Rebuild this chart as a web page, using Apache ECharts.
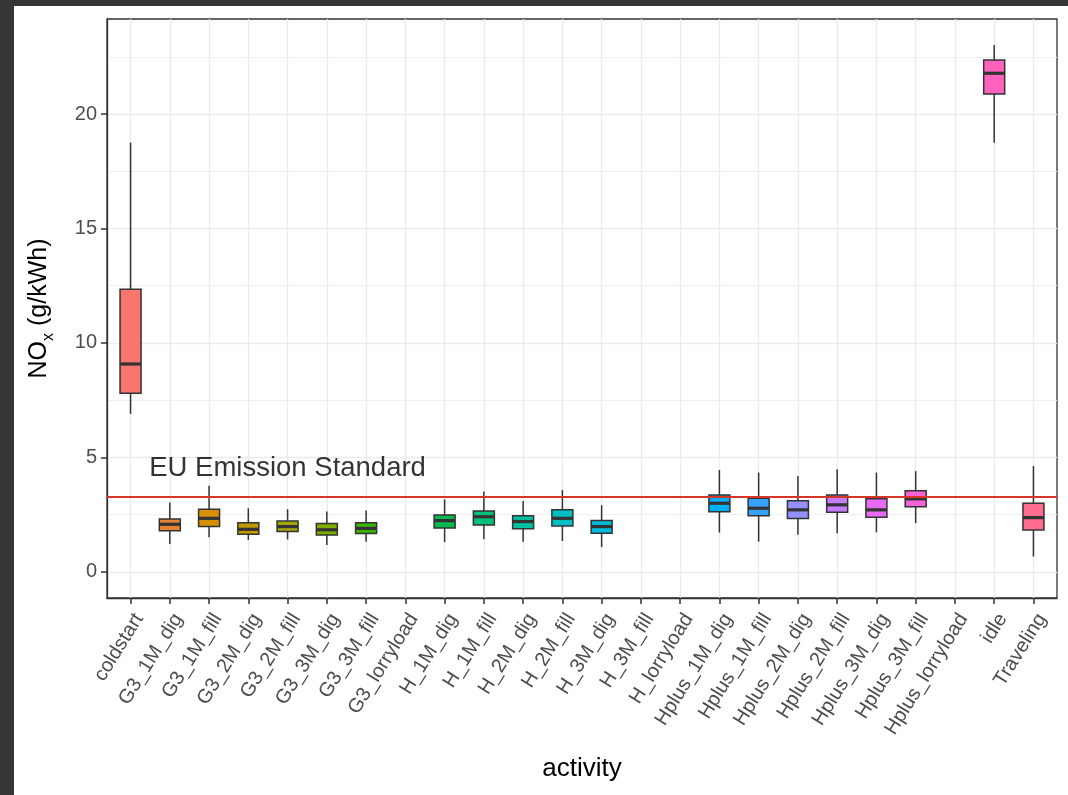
<!DOCTYPE html>
<html><head><meta charset="utf-8">
<script src="https://cdn.jsdelivr.net/npm/echarts@6/dist/echarts.min.js"></script>
<style>
html,body{margin:0;padding:0;background:#363636;width:1068px;height:795px;overflow:hidden}
#chart{position:absolute;left:14px;top:6px;width:1054px;height:789px;background:#fff}
</style></head><body><div id="chart"></div>
<script>
const categories = ['coldstart','G3_1M_dig','G3_1M_fill','G3_2M_dig','G3_2M_fill','G3_3M_dig','G3_3M_fill','G3_lorryload',
  'H_1M_dig','H_1M_fill','H_2M_dig','H_2M_fill','H_3M_dig','H_3M_fill','H_lorryload',
  'Hplus_1M_dig','Hplus_1M_fill','Hplus_2M_dig','Hplus_2M_fill','Hplus_3M_dig','Hplus_3M_fill','Hplus_lorryload','idle','Traveling'];
const boxCategories = ['coldstart','G3_1M_dig','G3_1M_fill','G3_2M_dig','G3_2M_fill','G3_3M_dig','G3_3M_fill',
  'H_1M_dig','H_1M_fill','H_2M_dig','H_2M_fill','H_3M_dig',
  'Hplus_1M_dig','Hplus_1M_fill','Hplus_2M_dig','Hplus_2M_fill','Hplus_3M_dig','Hplus_3M_fill','idle','Traveling'];
const whiskerLow  = [6.90, 1.22, 1.51, 1.40, 1.42, 1.17, 1.32, 1.30, 1.43, 1.32, 1.35, 1.08, 1.72, 1.32, 1.62, 1.69, 1.73, 2.13, 18.75, 0.67];
const quartile1   = [7.80, 1.80, 1.98, 1.64, 1.76, 1.61, 1.68, 1.92, 2.05, 1.89, 2.01, 1.69, 2.63, 2.45, 2.33, 2.61, 2.39, 2.85, 20.87, 1.83];
const medians     = [9.08, 2.08, 2.34, 1.86, 1.98, 1.84, 1.90, 2.24, 2.41, 2.20, 2.34, 1.98, 3.00, 2.78, 2.71, 2.93, 2.71, 3.19, 21.78, 2.37];
const quartile3   = [12.35, 2.31, 2.74, 2.15, 2.22, 2.11, 2.15, 2.49, 2.66, 2.45, 2.71, 2.24, 3.36, 3.22, 3.11, 3.36, 3.19, 3.54, 22.36, 3.00];
const whiskerHigh = [18.75, 3.03, 3.76, 2.78, 2.74, 2.64, 2.68, 3.17, 3.51, 3.10, 3.58, 2.91, 4.45, 4.34, 4.19, 4.48, 4.34, 4.40, 23.01, 4.63];
const fillColors = ['#F8766D','#EA8331','#D89000','#C09B00','#A3A500','#7CAE00','#39B600','#00BB4E','#00BF7D','#00C1A3',
  '#00BFC4','#00BAE0','#00B0F6','#35A2FF','#9590FF','#C77CFF','#E76BF3','#FA62DB','#FF62BC','#FF6C91'];
const yTickValues = [0, 5, 10, 15, 20];
const yMinorValues = [2.5, 7.5, 12.5, 17.5, 22.5];
const euStandard = 3.3;
const euLabel = 'EU Emission Standard';
const euLabelPos = [4, 4.5];

const xTickValues = categories.map((c, i) => i);
const boxData = boxCategories.map((c, i) => [categories.indexOf(c), whiskerLow[i], quartile1[i], medians[i], quartile3[i], whiskerHigh[i]]);

function renderBox(params, api) {
  const x = api.value(0);
  const pLo = api.coord([x, api.value(1)]);
  const pQ1 = api.coord([x, api.value(2)]);
  const pMed = api.coord([x, api.value(3)]);
  const pQ3 = api.coord([x, api.value(4)]);
  const pHi = api.coord([x, api.value(5)]);
  const hw = 10.5;
  const cx = pLo[0];
  const stroke = '#333333';
  return {
    type: 'group',
    children: [
      { type: 'line', shape: { x1: cx, y1: pHi[1], x2: cx, y2: pQ3[1] }, style: { stroke: stroke, lineWidth: 1.5 } },
      { type: 'line', shape: { x1: cx, y1: pQ1[1], x2: cx, y2: pLo[1] }, style: { stroke: stroke, lineWidth: 1.5 } },
      { type: 'rect', shape: { x: cx - hw, y: pQ3[1], width: 2 * hw, height: pQ1[1] - pQ3[1] },
        style: { fill: fillColors[params.dataIndex], stroke: stroke, lineWidth: 1.5 } },
      { type: 'line', shape: { x1: cx - hw, y1: pMed[1], x2: cx + hw, y2: pMed[1] }, style: { stroke: stroke, lineWidth: 3.2 } }
    ]
  };
}

const chart = echarts.init(document.getElementById('chart'), null, { renderer: 'canvas' });
chart.setOption({
  animation: false,
  textStyle: { fontFamily: 'Liberation Sans, Arial, sans-serif' },
  grid: { left: 93, top: 13, right: 11, bottom: 197, show: true, borderColor: '#333333', borderWidth: 1.3, backgroundColor: 'transparent' },
  xAxis: {
    type: 'value', min: -0.6, max: 23.6,
    axisLine: { show: true, onZero: false, lineStyle: { color: '#333333', width: 1.3 } },
    axisTick: { show: true, inside: false, customValues: xTickValues, length: 6, lineStyle: { color: '#333333', width: 1.5 } },
    axisLabel: {
      customValues: xTickValues,
      formatter: function (v) { const i = Math.round(v); return categories[i] !== undefined ? categories[i] : ''; },
      rotate: 58, align: 'right', verticalAlign: 'top', margin: 12, fontSize: 20, color: '#4D4D4D'
    },
    splitLine: { show: true, lineStyle: { color: '#EBEBEB', width: 1.4 } },
    name: 'activity', nameLocation: 'middle', nameGap: 158,
    nameTextStyle: { fontSize: 26, color: '#000000' }
  },
  yAxis: [{
    type: 'value', min: -1.14, max: 24.15,
    axisLine: { show: true, onZero: false, lineStyle: { color: '#333333', width: 1.3 } },
    axisTick: { show: true, inside: false, customValues: yTickValues, length: 6, lineStyle: { color: '#333333', width: 1.5 } },
    axisLabel: { customValues: yTickValues, fontSize: 20, color: '#4D4D4D', margin: 10 },
    splitLine: { show: true, lineStyle: { color: '#EBEBEB', width: 1.4 } },
    name: '{n|NO}{s|x}{n| (g/kWh)}', nameLocation: 'middle', nameGap: 52,
    nameTextStyle: {
      rich: {
        n: { fontSize: 25, color: '#000000', verticalAlign: 'top', lineHeight: 28 },
        s: { fontSize: 16, color: '#000000', verticalAlign: 'top', lineHeight: 16, padding: [14, 0, 0, 0] }
      }
    }
  }, {
    type: 'value', min: -1.14, max: 24.15, position: 'left',
    axisLine: { show: false, onZero: false },
    axisTick: { show: false, customValues: yMinorValues },
    axisLabel: { show: false, customValues: yMinorValues },
    splitLine: { show: true, lineStyle: { color: '#F0F0F0', width: 1 } }
  }],
  series: [{
    type: 'custom',
    renderItem: renderBox,
    data: boxData,
    encode: { x: 0, y: [1, 2, 3, 4, 5] },
    z: 3,
    markLine: {
      silent: true, symbol: ['none', 'none'], label: { show: false },
      lineStyle: { color: '#D7342A', width: 2, type: 'solid' },
      data: [{ yAxis: euStandard }]
    }
  }, {
    type: 'scatter',
    data: [euLabelPos],
    symbolSize: 0,
    silent: true,
    z: 4,
    label: { show: true, position: 'inside', formatter: euLabel, fontSize: 27.5, color: '#000000' }
  }]
});
</script></body></html>
